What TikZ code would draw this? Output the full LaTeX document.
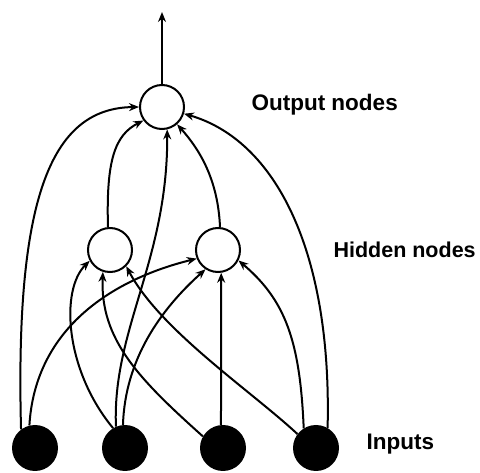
\documentclass[tikz,border=0pt]{standalone}
\usepackage{fontspec}
\setmainfont{Liberation Sans}
\usetikzlibrary{arrows.meta}
\begin{document}
\begin{tikzpicture}[x=1pt,y=-1pt,
  unit/.style={circle,draw,line width=2pt,minimum size=44pt,inner sep=0pt,fill=white},
  inp/.style={circle,fill=black,minimum size=46pt,inner sep=0pt},
  con/.style={line width=2pt,-{Stealth[length=10pt,width=8pt]}},
  lbl/.style={anchor=west,font=\bfseries\fontsize{22.5}{26}\selectfont}]
\useasboundingbox (0,0) rectangle (480,473);
% nodes
\node[unit] (out) at (162,107) {};
\node[unit] (hl) at (110,250) {};
\node[unit] (hr) at (218,250) {};
\node[inp] (i1) at (35,448) {};
\node[inp] (i2) at (125,448) {};
\node[inp] (i3) at (223,448) {};
\node[inp] (i4) at (316,448) {};
\coordinate (top) at (162,12);
% labels
\node[lbl] (lout) at (248,105) {Output nodes};
\node[lbl,font=\bfseries\fontsize{21.5}{26}\selectfont] (lhid) at (330,250) {Hidden nodes};
\node[lbl] (linp) at (363,444) {Inputs};
% output arrow
\draw[con] (out.90) -- (top);
% to output
\draw[con] (i1.127) .. controls (15,200) and (50,108) .. (out.180);
\draw[con] (i4.60) .. controls (332,250) and (275,140) .. (out.343);
\draw[con] (hl.95) .. controls (106,160) and (115,135) .. (out.216);
\draw[con] (hr.85) .. controls (218,180) and (200,150) .. (out.311);
\draw[con] (i2.113) .. controls (112,330) and (168,260) .. (out.283);
% to left hidden
\draw[con] (i2.121) .. controls (65,370) and (60,290) .. (hl.208);
\draw[con] (i3.150) .. controls (140,380) and (100,340) .. (hl.252);
\draw[con] (i4.143) .. controls (250,390) and (160,330) .. (hl.315);
% to right hidden
\draw[con] (i1.104) .. controls (35,330) and (110,280) .. (hr.202);
\draw[con] (i2.95) .. controls (125,360) and (160,310) .. (hr.237);
\draw[con] (i3.95) -- (hr.278);
\draw[con] (i4.122) .. controls (300,340) and (285,300) .. (hr.333);
\end{tikzpicture}
\end{document}
